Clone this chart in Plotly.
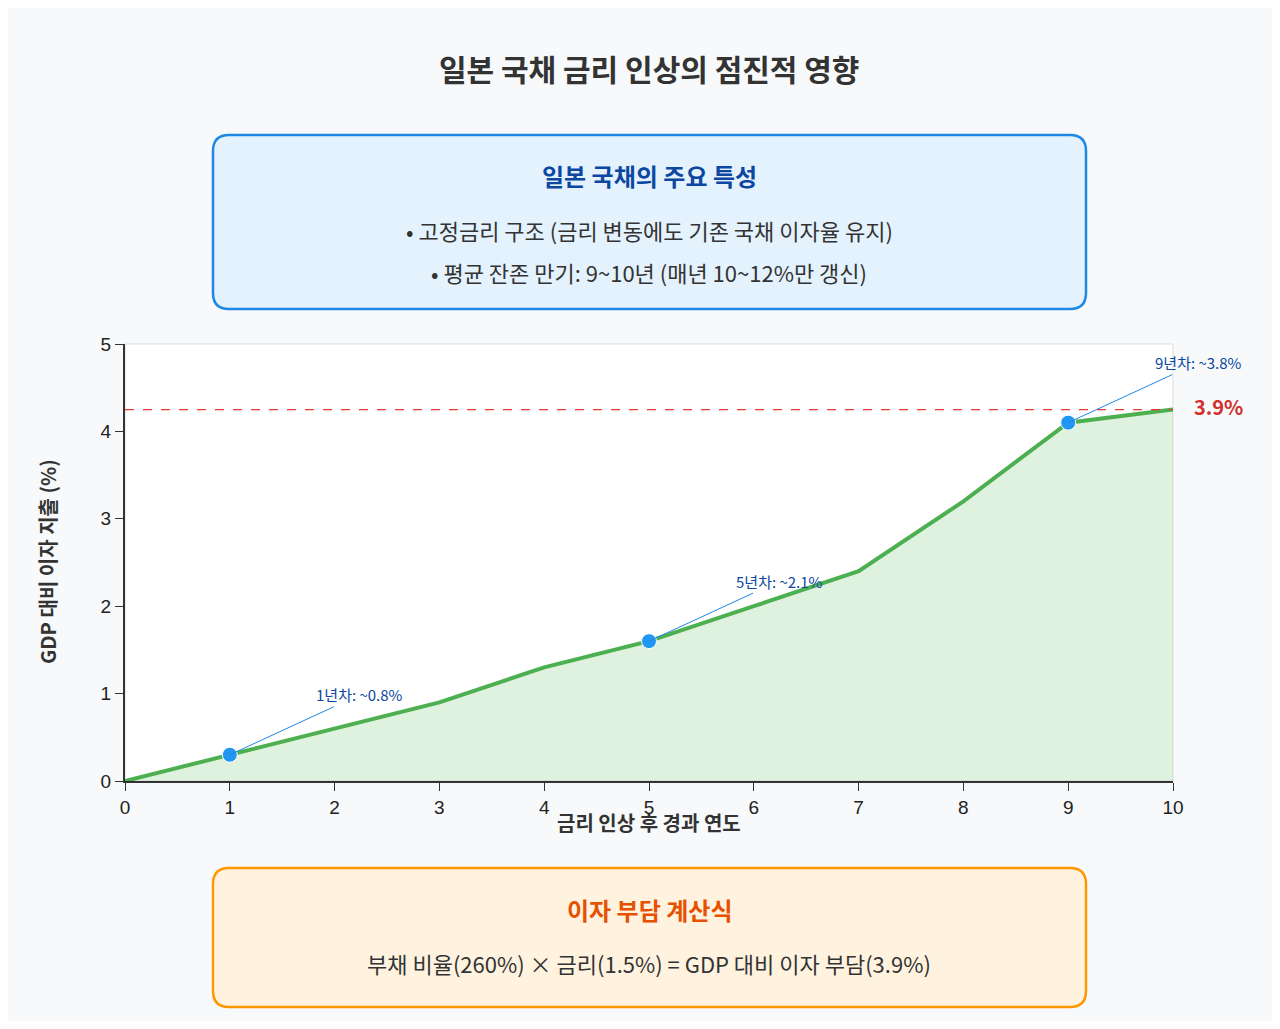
import plotly.graph_objects as go

years = [0, 1, 2, 3, 4, 5, 6, 7, 8, 9, 10]
interest = [0, 0.3, 0.6, 0.9, 1.3, 1.6, 2.0, 2.4, 3.2, 4.1, 4.25]
mark_years = [1, 5, 9]
mark_vals = [0.3, 1.6, 4.1]
mark_labels = ["1년차: ~0.8%", "5년차: ~2.1%", "9년차: ~3.8%"]
target = 4.25
target_label = "3.9%"

FONT = "Noto Sans CJK KR"
OFF = 8  # page body margin
FW, FH = 1280 - 2 * OFF, 1029 - 2 * OFF
L, R, T, B = 125 - OFF, 1173 - OFF, 344 - OFF, 781 - OFF
W, H = R - L, B - T

def px(x): return (x - OFF - L) / W
def py(y): return (B - (y - OFF)) / H

def rrect(x0, y0, x1, y1, r=16):
    def P(x, y): return f"{px(x)},{py(y)}"
    return (f"M {P(x0+r,y0)} L {P(x1-r,y0)} Q {P(x1,y0)} {P(x1,y0+r)} "
            f"L {P(x1,y1-r)} Q {P(x1,y1)} {P(x1-r,y1)} L {P(x0+r,y1)} "
            f"Q {P(x0,y1)} {P(x0,y1-r)} L {P(x0,y0+r)} Q {P(x0,y0)} {P(x0+r,y0)} Z")

fig = go.Figure()
fig.add_trace(go.Scatter(x=years, y=interest, mode="lines", fill="tozeroy",
                         fillcolor="rgba(76,175,80,0.18)",
                         line=dict(color="#4caf50", width=4), hoverinfo="skip"))
fig.add_trace(go.Scatter(x=mark_years, y=mark_vals, mode="markers",
                         marker=dict(color="#2196f3", size=15, line=dict(color="white", width=1))))

shapes = [
    dict(type="line", xref="x", yref="y", x0=0, x1=10, y0=target, y1=target,
         line=dict(color="#e53935", width=1.2, dash="dash")),
    dict(type="rect", xref="paper", yref="paper", x0=0, x1=1, y0=0, y1=1,
         line=dict(color="#dddddd", width=1), layer="below"),
    dict(type="path", xref="paper", yref="paper", path=rrect(213, 135, 1086, 309),
         fillcolor="#e3f2fd", line=dict(color="#1e88e5", width=2.5)),
    dict(type="path", xref="paper", yref="paper", path=rrect(213, 868, 1086, 1007),
         fillcolor="#fff3e0", line=dict(color="#ff9800", width=2.5)),
]

ann = []
for xv, yv, t in zip(mark_years, mark_vals, mark_labels):
    ann.append(dict(x=xv, y=yv, xref="x", yref="y", text=t, showarrow=True,
                    arrowhead=0, arrowwidth=1, arrowcolor="#1e88e5", ax=130, ay=-60,
                    font=dict(family=FONT, size=15, color="#0d47a1")))
def txt(x, y, t, size, color, angle=0):
    ann.append(dict(x=px(x), y=py(y), xref="paper", yref="paper", text=t, showarrow=False,
                    xanchor="center", yanchor="middle", textangle=angle,
                    font=dict(family=FONT, size=size, color=color)))
txt(1218, 406, f"<b>{target_label}</b>", 20, "#d32f2f")
txt(649, 176, "<b>일본 국채의 주요 특성</b>", 24, "#0d47a1")
txt(649, 230, "• 고정금리 구조 (금리 변동에도 기존 국채 이자율 유지)", 22, "#333333")
txt(649, 272, "• 평균 잔존 만기: 9~10년 (매년 10~12%만 갱신)", 22, "#333333")
txt(649, 909, "<b>이자 부담 계산식</b>", 24, "#e65100")
txt(649, 963, "부채 비율(260%) × 금리(1.5%) = GDP 대비 이자 부담(3.9%)", 22, "#333333")
txt(649, 822, "<b>금리 인상 후 경과 연도</b>", 20, "#333333")
txt(649, 68, "<b>일본 국채 금리 인상의 점진적 영향</b>", 30, "#333333")
txt(47, 562, "<b>GDP 대비 이자 지출 (%)</b>", 20, "#333333", -90)

fig.update_layout(
    width=FW, height=FH, showlegend=False,
    margin=dict(l=L, r=FW - R, t=T, b=FH - B),
    paper_bgcolor="#f8f9fa", plot_bgcolor="white",
    font=dict(family=FONT, size=18, color="#222222"),
    shapes=shapes, annotations=ann,
    xaxis=dict(range=[0, 10], dtick=1, showgrid=False, zeroline=False, showline=True,
               linecolor="#333333", linewidth=2, ticks="outside", ticklen=8, tickcolor="#333333",
               tickfont=dict(family="Liberation Sans", size=19)),
    yaxis=dict(range=[0, 5], dtick=1, showgrid=False, zeroline=False, showline=True,
               linecolor="#333333", linewidth=2, ticks="outside", ticklen=8, tickcolor="#333333",
               tickfont=dict(family="Liberation Sans", size=19)),
)
fig.write_html("out.html")
